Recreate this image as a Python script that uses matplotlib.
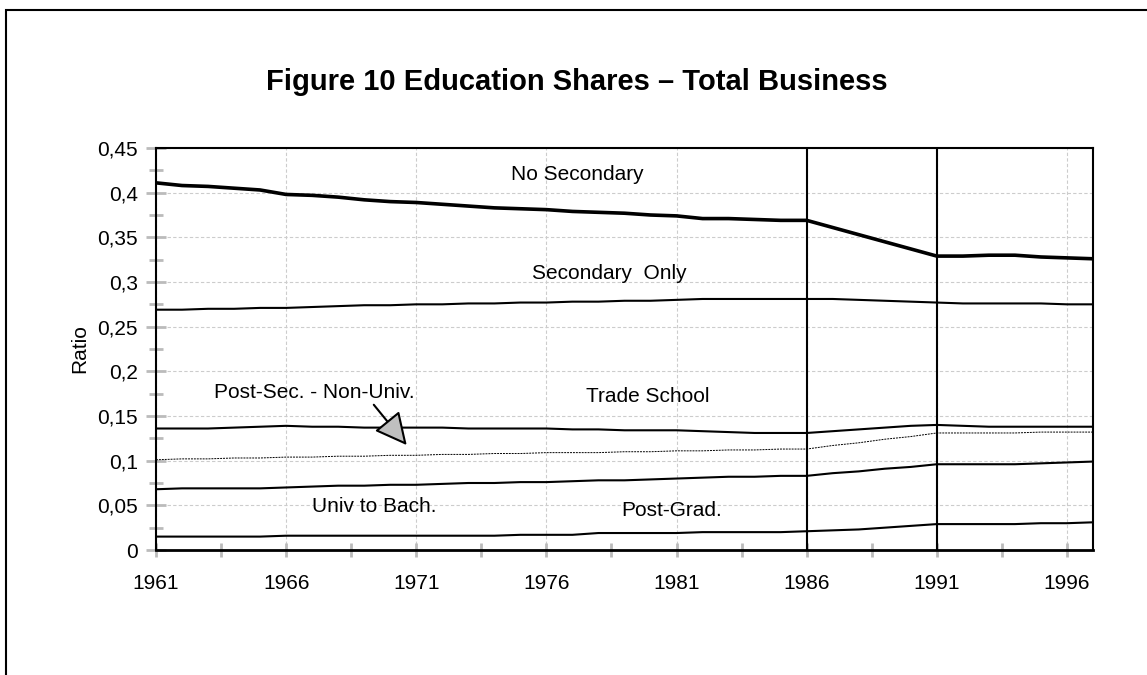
import numpy as np
import matplotlib
matplotlib.use("Agg")
from matplotlib import pyplot as plt
from matplotlib.patches import Rectangle
from matplotlib.ticker import MultipleLocator, FuncFormatter

plt.rcParams['font.family'] = ['Liberation Sans', 'DejaVu Sans']

years = list(range(1961, 1998))

no_secondary = [0.411, 0.408, 0.407, 0.405, 0.403, 0.398, 0.397, 0.395, 0.392, 0.390,
                0.389, 0.387, 0.385, 0.383, 0.382, 0.381, 0.379, 0.378, 0.377, 0.375,
                0.374, 0.371, 0.371, 0.370, 0.369, 0.369, 0.361, 0.353, 0.345, 0.337,
                0.329, 0.329, 0.330, 0.330, 0.328, 0.327, 0.326]
secondary_only = [0.269, 0.269, 0.270, 0.270, 0.271, 0.271, 0.272, 0.273, 0.274, 0.274,
                  0.275, 0.275, 0.276, 0.276, 0.277, 0.277, 0.278, 0.278, 0.279, 0.279,
                  0.280, 0.281, 0.281, 0.281, 0.281, 0.281, 0.281, 0.280, 0.279, 0.278,
                  0.277, 0.276, 0.276, 0.276, 0.276, 0.275, 0.275]
trade_school = [0.136, 0.136, 0.136, 0.137, 0.138, 0.139, 0.138, 0.138, 0.137, 0.137,
                0.137, 0.137, 0.136, 0.136, 0.136, 0.136, 0.135, 0.135, 0.134, 0.134,
                0.134, 0.133, 0.132, 0.131, 0.131, 0.131, 0.133, 0.135, 0.137, 0.139,
                0.140, 0.139, 0.138, 0.138, 0.138, 0.138, 0.138]
post_sec = [0.101, 0.102, 0.102, 0.103, 0.103, 0.104, 0.104, 0.105, 0.105, 0.106,
            0.106, 0.107, 0.107, 0.108, 0.108, 0.109, 0.109, 0.109, 0.110, 0.110,
            0.111, 0.111, 0.112, 0.112, 0.113, 0.113, 0.117, 0.120, 0.124, 0.127,
            0.131, 0.131, 0.131, 0.131, 0.132, 0.132, 0.132]
univ_bach = [0.068, 0.069, 0.069, 0.069, 0.069, 0.070, 0.071, 0.072, 0.072, 0.073,
             0.073, 0.074, 0.075, 0.075, 0.076, 0.076, 0.077, 0.078, 0.078, 0.079,
             0.080, 0.081, 0.082, 0.082, 0.083, 0.083, 0.086, 0.088, 0.091, 0.093,
             0.096, 0.096, 0.096, 0.096, 0.097, 0.098, 0.099]
post_grad = [0.015, 0.015, 0.015, 0.015, 0.015, 0.016, 0.016, 0.016, 0.016, 0.016,
             0.016, 0.016, 0.016, 0.016, 0.017, 0.017, 0.017, 0.019, 0.019, 0.019,
             0.019, 0.020, 0.020, 0.020, 0.020, 0.021, 0.022, 0.023, 0.025, 0.027,
             0.029, 0.029, 0.029, 0.029, 0.030, 0.030, 0.031]

break_years = [1986, 1991]
xticks = [1961, 1966, 1971, 1976, 1981, 1986, 1991, 1996]

fig = plt.figure(figsize=(11.47, 6.75), dpi=100)
fig.patches.append(Rectangle((6 / 1147, -0.1), 1.2, 1.1 - 10 / 675, transform=fig.transFigure,
                             fill=False, edgecolor='black', linewidth=1.5))
ax = fig.add_axes([156 / 1147, 125 / 675, 937 / 1147, 402 / 675])

ax.plot(years, no_secondary, color='black', lw=2.6)
ax.plot(years, secondary_only, color='black', lw=1.5)
ax.plot(years, trade_school, color='black', lw=1.5)
ax.plot(years, post_sec, color='black', lw=0.7, ls=(0, (2, 1)))
ax.plot(years, univ_bach, color='black', lw=1.5)
ax.plot(years, post_grad, color='black', lw=1.5)
for b in break_years:
    ax.axvline(b, color='black', lw=1.5, zorder=3)

ax.set_xlim(1961, 1997)
ax.set_ylim(0, 0.45)
ax.set_xticks(xticks)
ax.xaxis.set_minor_locator(MultipleLocator(2.5, offset=1))
ax.yaxis.set_major_locator(MultipleLocator(0.05))
ax.yaxis.set_minor_locator(MultipleLocator(0.025))
ax.yaxis.set_major_formatter(FuncFormatter(lambda v, p: ('%g' % round(v, 2)).replace('.', ',')))
ax.grid(True, which='major', color='#cccccc', ls=(0, (3, 2)), lw=0.8)
ax.tick_params(which='both', direction='inout', color='#bbbbbb', width=2, labelsize=15, pad=6)
ax.tick_params(axis='y', which='major', length=14)
ax.tick_params(axis='y', which='minor', length=10)
ax.tick_params(axis='x', which='both', length=10)
ax.tick_params(axis='x', pad=12)
for s in ['left', 'top', 'right']:
    ax.spines[s].set_linewidth(1.5)
ax.spines['bottom'].set_linewidth(2)
ax.set_ylabel('Ratio', fontsize=15, labelpad=6)

fig.text(0.503, 1 - 82 / 675, 'Figure 10 Education Shares \u2013 Total Business',
         ha='center', va='center', fontsize=21, fontweight='bold')

lab = dict(fontsize=15, ha='center', va='center')
ax.text(1977.2, 0.420, 'No Secondary', **lab)
ax.text(1978.4, 0.310, 'Secondary  Only', **lab)
ax.text(1979.9, 0.172, 'Trade School', **lab)
ax.text(1967.1, 0.176, 'Post-Sec. - Non-Univ.', **lab)
ax.text(1969.4, 0.049, 'Univ to Bach.', **lab)
ax.text(1980.8, 0.044, 'Post-Grad.', **lab)
ax.annotate('', xy=(1970.7, 0.115), xytext=(1969.3, 0.165),
            arrowprops=dict(arrowstyle='-|>,head_length=2.0,head_width=1.0',
                            fc='#bfbfbf', ec='black', lw=1.5))

fig.savefig('out.png', dpi=100)
